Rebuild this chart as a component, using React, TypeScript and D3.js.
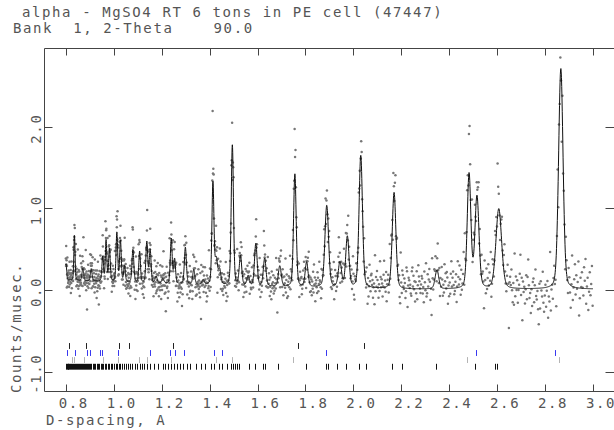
import React, { useEffect, useRef } from 'react';
import * as d3 from 'd3';

// GSAS style powder pattern: observed points, calculated curve, reflection ticks

const WIDTH = 614;
const HEIGHT = 430;
const FRAME = { left: 44.5, right: 614.5, top: 48.5, bottom: 391.5 };
const X_DOMAIN = [0.711, 3.09];
const Y_DOMAIN = [-1.242, 2.956];
const FONT = '"DejaVu Sans Mono", monospace';

const TITLE_1 = 'alpha - MgSO4 RT 6 tons in PE cell (47447)';
const TITLE_2 = 'Bank  1, 2-Theta    90.0';
const X_LABEL = 'D-spacing, A';
const Y_LABEL = 'Counts/musec.';

const X_TICKS = [0.8, 1.0, 1.2, 1.4, 1.6, 1.8, 2.0, 2.2, 2.4, 2.6, 2.8, 3.0];
const Y_TICKS = [-1, 0, 1, 2];

// peaks of the fitted pattern: position, calc height, obs height, fwhm
const PEAK_D = [0.801, 0.836, 0.871, 0.906, 0.954, 0.968, 0.982, 1.013, 1.028, 1.045, 1.08, 1.108, 1.138, 1.152, 1.177, 1.205, 1.24, 1.254, 1.299, 1.334, 1.373, 1.414, 1.428, 1.442, 1.495, 1.529, 1.561, 1.593, 1.63, 1.693, 1.756, 1.805, 1.889, 1.944, 1.975, 2.031, 2.17, 2.349, 2.483, 2.516, 2.607, 2.866];
const PEAK_CALC = [0.2, 0.55, 0.15, 0.15, 0.3, 0.5, 0.4, 0.6, 0.5, 0.2, 0.4, 0.38, 0.5, 0.4, 0.08, 0.06, 0.55, 0.3, 0.45, 0.18, 0.06, 1.25, 0.3, 0.18, 1.72, 0.36, 0.12, 0.52, 0.34, 0.25, 1.38, 0.3, 1.0, 0.3, 0.62, 1.62, 1.18, 0.23, 1.4, 1.12, 0.98, 2.7];
const PEAK_OBS = [0.25, 0.6, 0.18, 0.2, 0.32, 0.55, 0.45, 0.75, 0.55, 0.25, 0.42, 0.4, 0.55, 0.45, 0.1, 0.1, 0.6, 0.35, 0.5, 0.2, 0.1, 1.5, 0.35, 0.2, 1.85, 0.4, 0.15, 0.55, 0.38, 0.3, 1.6, 0.3, 1.05, 0.3, 0.65, 1.65, 1.3, 0.25, 1.7, 1.2, 1.05, 2.72];
const PEAK_FWHM = [0.006, 0.006, 0.008, 0.008, 0.008, 0.007, 0.008, 0.008, 0.008, 0.008, 0.009, 0.008, 0.009, 0.009, 0.01, 0.01, 0.009, 0.009, 0.01, 0.01, 0.01, 0.01, 0.012, 0.012, 0.011, 0.012, 0.012, 0.013, 0.013, 0.014, 0.013, 0.014, 0.018, 0.016, 0.016, 0.017, 0.018, 0.018, 0.018, 0.02, 0.028, 0.022];

const BG_D = [0.8, 1.0, 1.3, 1.6, 2.0, 2.2, 3.0];
const BG_VAL = [0.12, 0.1, 0.07, 0.045, 0.025, 0.01, 0.01];

// scatter of the observed points around the fit
const NOISE_D = [0.8, 1.0, 1.2, 1.4, 1.6, 1.8, 2.0, 2.2, 2.4, 2.6, 2.72, 2.8, 2.95, 3.0];
const NOISE_SHIFT = [0.02, -0.01, -0.03, -0.03, 0.0, 0.02, 0.03, 0.04, 0.06, 0.08, 0.0, -0.12, 0.06, 0.04];
const NOISE_SPREAD = [0.12, 0.13, 0.14, 0.14, 0.13, 0.14, 0.15, 0.16, 0.17, 0.18, 0.2, 0.22, 0.21, 0.21];
const RESIDUALS =
  '528360749146273851692473580629417536824971536082745936184275396148257306942' +
  '639147258036492715836247951386042759316842573916482057369142857361942853760' +
  '481529637052841693752486139752640831759246835179264380571462938571642935874' +
  '275931864073529681437592608415372964851376294058316724953816472590386147529' +
  '946283517406932857146392587041635928471635029748165327941863520749613852476' +
  '351864927350816429753184629570361842597361482075934618257396410852736941582' +
  '824619375028643159724863051794268357149620385741692358746013925847631952846' +
  '593724186095374281653974260815734962851374069258314762953801746529381467253' +
  '168453792064185732964518370269548137264958301764285931760482539617482536904' +
  '732596418375026948153762940851367249835160742935861472095368142753968024175' +
  '407935286147539268041573692845137062948537162490583671248593617042583964172' +
  '615382947056318724965308174269358147206593841726539048716253894701652384971' +
  '380562917463582497106538724196503782461935728406139527846135092748631529746' +
  '514793628045713926854073169258473610952874365129804763521894736052814976325' +
  '762408539127468513096247583169427053861429573860415279368412570396485172369' +
  '295137406852391674820536917428563094172583649027513846297510368427953168405' +
  '648315092736145892706351482796340517826943510728649315726804391562784305916' +
  '473082651974286305914682735901647328591460372581946372058416932758046139275';

// reflection tick rows
const ROW1_D = [0.812, 0.883, 1.02, 1.065, 1.249, 1.771, 2.043];
const ROW2_D = [0.803, 0.838, 0.888, 0.902, 0.941, 0.95, 1.016, 1.151, 1.235, 1.256, 1.294, 1.42, 1.452, 1.884, 2.51, 2.84];
const ROW3_D = [0.824, 0.833, 0.874, 0.954, 1.018, 1.107, 1.138, 1.237, 1.428, 1.495, 1.75, 2.476, 2.86];
const ROW4_D = [0.8, 0.804, 0.808, 0.811, 0.815, 0.819, 0.822, 0.826, 0.83, 0.833, 0.837, 0.841, 0.846, 0.85, 0.855, 0.859, 0.862, 0.866, 0.871, 0.875, 0.88, 0.884, 0.889, 0.893, 0.897, 0.902, 0.907, 0.912, 0.918, 0.923, 0.929, 0.934, 0.94, 0.946, 0.951, 0.957, 0.962, 0.968, 0.975, 0.981, 0.987, 0.994, 1.001, 1.008, 1.015, 1.021, 1.028, 1.036, 1.044, 1.052, 1.06, 1.069, 1.078, 1.087, 1.096, 1.108, 1.118, 1.128, 1.14, 1.152, 1.17, 1.184, 1.205, 1.215, 1.226, 1.238, 1.25, 1.262, 1.276, 1.29, 1.305, 1.32, 1.342, 1.365, 1.38, 1.408, 1.42, 1.438, 1.452, 1.474, 1.491, 1.498, 1.505, 1.515, 1.523, 1.565, 1.589, 1.621, 1.63, 1.686, 1.802, 1.885, 1.893, 1.933, 1.97, 2.024, 2.054, 2.163, 2.205, 2.346, 2.509, 2.593, 2.6];
const ROWS = [ROW1_D, ROW2_D, ROW3_D, ROW4_D];
const ROW_Y = [-0.685, -0.771, -0.857, -0.939];
const ROW_COLORS = ['#222', '#3838f0', '#b4b4b4', '#111'];

const D_START = 0.8;
const D_END = 3.0;

const profile = (d, d0, w) => {
  const t2 = 4 * ((d - d0) / w) ** 2;
  return 0.75 * Math.exp(-Math.LN2 * t2) + 0.25 / (1 + t2);
};

// two residual digits -> a value in (0,1) -> bell shaped deviate
const residual = (k) => {
  const n = RESIDUALS.length;
  const v = (10 * +RESIDUALS[k % n] + +RESIDUALS[(k + 611) % n] + 0.5) / 100;
  return 0.55 * Math.log(v / (1 - v));
};

const keepSpaces = (s) => s.replace(/ /g, '\u00a0');

const App = () => {
  const chartRef = useRef(null);

  useEffect(() => {
    const svg = d3.select(chartRef.current);
    svg.selectAll('*').remove();

    const xScale = d3.scaleLinear().domain(X_DOMAIN).range([FRAME.left, FRAME.right]);
    const yScale = d3.scaleLinear().domain(Y_DOMAIN).range([FRAME.bottom, FRAME.top]);
    const bg = d3.scaleLinear().domain(BG_D).range(BG_VAL).clamp(true);
    const shift = d3.scaleLinear().domain(NOISE_D).range(NOISE_SHIFT).clamp(true);
    const spread = d3.scaleLinear().domain(NOISE_D).range(NOISE_SPREAD).clamp(true);

    const peakSum = (d, heights) => d3.sum(PEAK_D, (p, i) => heights[i] * profile(d, p, PEAK_FWHM[i]));

    // calculated curve on a fine grid
    const calc = [];
    for (let d = D_START; d <= D_END; d *= 1.0004) calc.push([d, bg(d) + peakSum(d, PEAK_CALC)]);

    // observed points on the TOF grid (constant dd/d)
    const obs = [];
    let k = 0;
    for (let d = D_START; d <= D_END; d *= 1.001, k++) {
      const z = residual(k);
      const peaks = peakSum(d, PEAK_OBS);
      obs.push([d, bg(d) + peaks + shift(d) + (spread(d) + 0.07 * peaks) * z]);
    }

    svg.append('defs').append('clipPath').attr('id', 'plotClip')
      .append('rect')
      .attr('x', FRAME.left).attr('y', FRAME.top)
      .attr('width', FRAME.right - FRAME.left).attr('height', FRAME.bottom - FRAME.top);

    const plot = svg.append('g').attr('clip-path', 'url(#plotClip)');

    plot.append('g')
      .attr('fill', '#777')
      .selectAll('circle')
      .data(obs)
      .join('circle')
      .attr('cx', datum => xScale(datum[0]))
      .attr('cy', datum => yScale(datum[1]))
      .attr('r', 1.25);

    plot.append('path')
      .datum(calc)
      .attr('fill', 'none')
      .attr('stroke', '#111')
      .attr('stroke-width', 1)
      .attr('d', d3.line().x(datum => xScale(datum[0])).y(datum => yScale(datum[1])));

    // reflection markers
    ROWS.forEach((row, r) => {
      plot.append('g')
        .attr('stroke', ROW_COLORS[r])
        .attr('stroke-width', 1)
        .selectAll('line')
        .data(row)
        .join('line')
        .attr('x1', datum => Math.round(xScale(datum)) + 0.5)
        .attr('x2', datum => Math.round(xScale(datum)) + 0.5)
        .attr('y1', yScale(ROW_Y[r] + 0.036))
        .attr('y2', yScale(ROW_Y[r] - 0.036));
    });

    // frame and inward ticks
    const axes = svg.append('g').attr('stroke', '#444').attr('stroke-width', 1).attr('fill', 'none');
    axes.append('path')
      .attr('d', `M${FRAME.right},${FRAME.top}H${FRAME.left}V${FRAME.bottom}H${FRAME.right}`);
    axes.selectAll('.xt')
      .data(X_TICKS)
      .join('path')
      .attr('d', datum => {
        const px = Math.round(xScale(datum)) + 0.5;
        return `M${px},${FRAME.bottom}v-7M${px},${FRAME.top}v7`;
      });
    axes.selectAll('.yt')
      .data(Y_TICKS)
      .join('path')
      .attr('d', datum => {
        const py = Math.round(yScale(datum)) + 0.5;
        return `M${FRAME.left},${py}h8M${FRAME.right},${py}h-9`;
      });

    // text
    const text = svg.append('g')
      .attr('font-family', FONT)
      .attr('font-size', 14)
      .attr('letter-spacing', 1.6)
      .attr('fill', '#555');

    text.append('text').attr('x', 22).attr('y', 17).text(keepSpaces(TITLE_1));
    text.append('text').attr('x', 13).attr('y', 33).text(keepSpaces(TITLE_2));
    text.append('text').attr('x', 46).attr('y', 425).text(X_LABEL);
    text.append('text')
      .attr('transform', 'translate(21, 393) rotate(-90)')
      .text(Y_LABEL);

    text.selectAll('.xl')
      .data(X_TICKS)
      .join('text')
      .attr('x', datum => xScale(datum) - 7)
      .attr('y', 408)
      .text(datum => d3.format('.1f')(datum));

    text.selectAll('.yl')
      .data(Y_TICKS)
      .join('text')
      .attr('text-anchor', 'middle')
      .attr('transform', datum => `translate(41, ${yScale(datum) + 2}) rotate(-90)`)
      .text(datum => d3.format('.1f')(datum).replace('\u2212', '-'));
  }, []);

  return (
    <div style={{ position: 'absolute', left: 0, top: 0 }}>
      <svg width={WIDTH} height={HEIGHT} ref={chartRef} style={{ display: 'block', background: '#fff' }} />
    </div>
  );
};

export default App;
